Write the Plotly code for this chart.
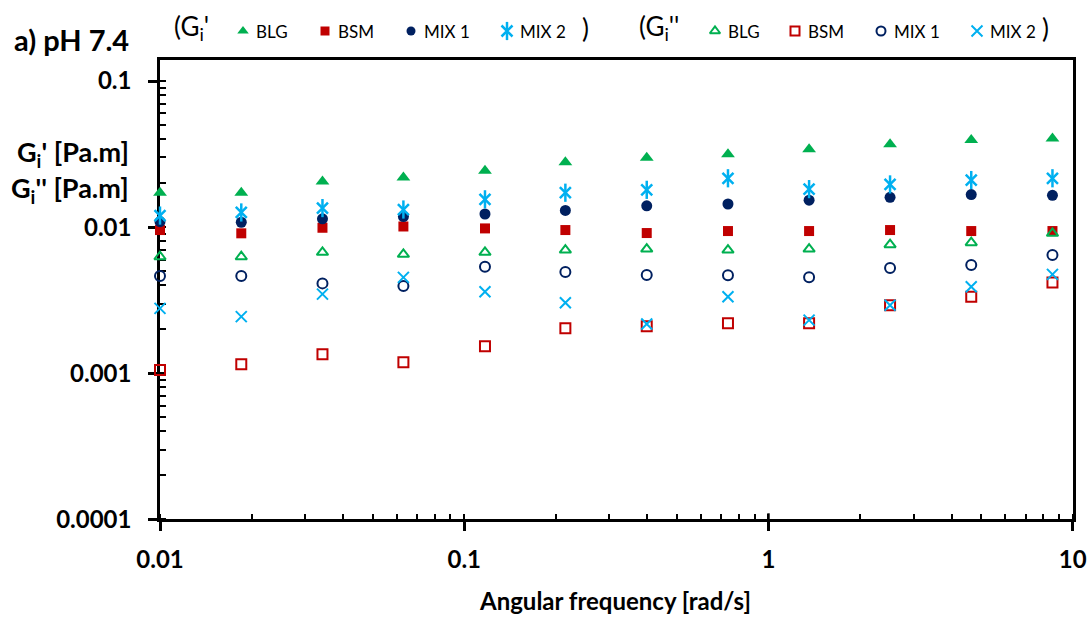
import math
import plotly.graph_objects as go

# Angular frequency sweep [rad/s]
freq = [0.01, 0.0185, 0.0342, 0.0631, 0.117, 0.215, 0.398, 0.736, 1.36, 2.51, 4.64, 8.58]

# Interfacial storage modulus G_i' [Pa.m]
blg_g1 = [0.0172, 0.0172, 0.0205, 0.0219, 0.0243, 0.0278, 0.0299, 0.0315, 0.0341, 0.0369, 0.0395, 0.0405]
bsm_g1 = [0.00955, 0.00907, 0.0099, 0.0101, 0.0098, 0.00955, 0.00911, 0.0094, 0.0094, 0.00955, 0.0094, 0.0094]
mix1_g1 = [0.0109, 0.0108, 0.0114, 0.0118, 0.0123, 0.0130, 0.0140, 0.0144, 0.0153, 0.0160, 0.0167, 0.0165]
mix2_g1 = [0.0120, 0.0126, 0.0135, 0.0132, 0.0155, 0.0172, 0.0180, 0.0216, 0.0182, 0.0196, 0.0210, 0.0216]

# Interfacial loss modulus G_i'' [Pa.m]
blg_g2 = [0.00627, 0.00627, 0.00672, 0.00651, 0.00672, 0.00697, 0.00708, 0.00697, 0.00708, 0.00758, 0.00782, 0.00907]
bsm_g2 = [0.00105, 0.00115, 0.00135, 0.00119, 0.00153, 0.00203, 0.0021, 0.0022, 0.0022, 0.00292, 0.00334, 0.00417]
mix1_g2 = [0.00463, 0.00463, 0.00412, 0.00395, 0.00536, 0.00493, 0.0047, 0.00468, 0.00453, 0.00525, 0.0055, 0.00644]
mix2_g2 = [0.00278, 0.00244, 0.00348, 0.00453, 0.00361, 0.00304, 0.00217, 0.00334, 0.00231, 0.00292, 0.00391, 0.00475]

x_ticks = [0.01, 0.1, 1, 10]
x_tick_labels = ["0.01", "0.1", "1", "10"]
y_ticks = [0.0001, 0.001, 0.01, 0.1]
y_tick_labels = ["0.0001", "0.001", "0.01", "0.1"]

GREEN = "#00B050"
RED = "#C00000"
NAVY = "#002060"
BLUE = "#00B0F0"
FONT = "Lato"

W, H = 1091, 617
# plot area in pixels
PL, PR, PT, PB = 160, 1072.7, 60, 519.3

fig = go.Figure()

def add(y, symbol, color, size, lw=2, xs=None, xa="x", ya="y"):
    fig.add_trace(go.Scatter(
        x=xs if xs is not None else freq, y=y, mode="markers",
        xaxis=xa, yaxis=ya, cliponaxis=False, showlegend=False, hoverinfo="skip",
        marker=dict(symbol=symbol, size=size, color=color,
                    line=dict(width=lw, color=color)),
    ))

# the asterisk marker is an x with a vertical bar through it
def add_asterisk(y, color, xs=None, xa="x", ya="y"):
    add(y, "x-thin-open", color, 11, 2.5, xs=xs, xa=xa, ya=ya)
    add(y, "line-ns-open", color, 13, 2.5, xs=xs, xa=xa, ya=ya)

# G_i' series (filled)
add(blg_g1, "triangle-up", GREEN, 12, 0)
add(bsm_g1, "square", RED, 10, 0)
add(mix1_g1, "circle", NAVY, 11, 0)
add_asterisk(mix2_g1, BLUE)
# G_i'' series (open)
add(blg_g2, "triangle-up-open", GREEN, 10, 2)
add(bsm_g2, "square-open", RED, 10, 2)
add(mix1_g2, "circle-open", NAVY, 10, 2)
add(mix2_g2, "x-thin-open", BLUE, 11, 2)

# key row above the plot, drawn on a pixel-space axis spanning the figure
KEY_Y = 31
key1 = [("BLG", 243, "triangle-up", GREEN, 10), ("BSM", 325, "square", RED, 9),
        ("MIX 1", 411, "circle", NAVY, 9), ("MIX 2", 507, "ast", BLUE, 10)]
key2 = [("BLG", 715, "triangle-up-open", GREEN, 9), ("BSM", 795, "square-open", RED, 9),
        ("MIX 1", 881, "circle-open", NAVY, 9), ("MIX 2", 977, "x-thin-open", BLUE, 11)]
for name, kx, sym, col, sz in key1 + key2:
    if sym == "ast":
        add_asterisk([KEY_Y], col, xs=[kx], xa="x3", ya="y3")
    else:
        add([KEY_Y], sym, col, sz, 0 if sym in ("triangle-up", "square", "circle") else 2,
            xs=[kx], xa="x3", ya="y3")

xdom = [PL / W, PR / W]
ydom = [1 - PB / H, 1 - PT / H]
xr = [-2, 1]
yr = [-4, -0.856]

axis_common = dict(
    showgrid=False, zeroline=False, showline=True, linecolor="black", linewidth=2.5,
    ticks="outside", ticklen=9, tickwidth=2.5, tickcolor="black",
    tickfont=dict(family=FONT, size=24, color="black", weight="bold"),
    layer="below traces", automargin=False,
)

fig.update_layout(
    width=W, height=H,
    margin=dict(l=0, r=0, t=0, b=0, autoexpand=False),
    paper_bgcolor="white", plot_bgcolor="rgba(0,0,0,0)",
    showlegend=False,
    xaxis=dict(type="log", range=xr, domain=xdom, anchor="y",
               tickvals=x_ticks, ticktext=x_tick_labels, mirror=True,
               ticklabelstandoff=8,
               minor=dict(ticks="inside", ticklen=6, tickwidth=2, tickcolor="black",
                          dtick="D1", showgrid=False),
               **axis_common),
    yaxis=dict(type="log", range=yr, domain=ydom, anchor="x",
               tickvals=y_ticks, ticktext=y_tick_labels, mirror=True,
               ticklabelstandoff=12,
               minor=dict(ticks="inside", ticklen=6, tickwidth=2, tickcolor="black",
                          dtick="D1", showgrid=False),
               **axis_common),
    xaxis3=dict(range=[0, W], domain=[0, 1], anchor="y3", visible=False,
                fixedrange=True, automargin=False),
    yaxis3=dict(range=[H, 0], domain=[0, 1], anchor="x3", visible=False,
                fixedrange=True, automargin=False),
)

# inner half of the major ticks, so they cross the axis lines
tick_line = dict(color="black", width=2.5)
for t in x_ticks:
    fig.add_shape(type="line", xref="x", yref="y domain", ysizemode="pixel", yanchor=0,
                  x0=math.log10(t), x1=math.log10(t), y0=0, y1=6, line=tick_line, layer="below")
for t in y_ticks:
    fig.add_shape(type="line", yref="y", xref="x domain", xsizemode="pixel", xanchor=0,
                  y0=math.log10(t), y1=math.log10(t), x0=0, x1=6, line=tick_line, layer="below")

def px(x):
    return x / W

def py(y):
    return 1 - y / H

ann = []
bold = dict(family=FONT, color="black", weight="bold")
ann.append(dict(x=px(12), y=py(40), text="a) pH 7.4", xanchor="left", yanchor="middle",
                font=dict(size=29, **bold)))
ann.append(dict(x=px(131), y=py(154), text="G<sub>i</sub>' [Pa.m]", xanchor="right",
                yanchor="middle", font=dict(size=27, **bold)))
ann.append(dict(x=px(131), y=py(189), text="G<sub>i</sub>'' [Pa.m]", xanchor="right",
                yanchor="middle", font=dict(size=27, **bold)))
ann.append(dict(x=px(615), y=py(600), text="Angular frequency [rad/s]", xanchor="center",
                yanchor="middle", font=dict(size=24, **bold)))

reg = dict(family=FONT, color="black")
ann.append(dict(x=px(172), y=py(28), text="(G<sub>i</sub>'", xanchor="left", yanchor="middle",
                font=dict(size=26, **reg)))
ann.append(dict(x=px(580), y=py(28), text=")", xanchor="left", yanchor="middle",
                font=dict(size=26, **reg)))
ann.append(dict(x=px(637), y=py(28), text="(G<sub>i</sub>''", xanchor="left", yanchor="middle",
                font=dict(size=26, **reg)))
ann.append(dict(x=px(1040), y=py(28), text=")", xanchor="left", yanchor="middle",
                font=dict(size=26, **reg)))
for name, kx, *_ in key1 + key2:
    ann.append(dict(x=px(kx + 11), y=py(KEY_Y), text=name, xanchor="left", yanchor="middle",
                    font=dict(size=17, **reg)))

for a in ann:
    a.update(xref="paper", yref="paper", showarrow=False)
fig.update_layout(annotations=ann)

fig.write_html("out.html")
